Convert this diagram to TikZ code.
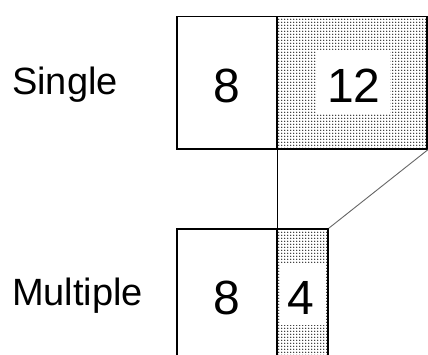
\documentclass[tikz,border=0pt]{standalone}
\usepackage{fontspec}
\setmainfont{Liberation Sans}
\usepackage{tikz}
\usetikzlibrary{patterns}

% denser, bigger dots than the stock pattern
\pgfdeclarepatternformonly{bigdots}{\pgfpoint{-1pt}{-1pt}}{\pgfpoint{2pt}{2pt}}{\pgfpoint{3pt}{3pt}}{%
    \pgfpathcircle{\pgfpointorigin}{0.75pt}
    \pgfusepath{fill}}

\begin{document}
\begin{tikzpicture}[x=1pt, y=-1pt,
        cell/.style={rectangle, draw=black, line width=1.6pt, inner sep=0pt, minimum height=132.5pt},
        dotcell/.style={cell, pattern=bigdots, pattern color=black},
        hole/.style={rectangle, fill=white, inner sep=0pt},
        num/.style={anchor=base, inner sep=0pt, font=\fontsize{48}{50}\selectfont},
        rowlabel/.style={anchor=base west, inner sep=0pt, font=\fontsize{38}{40}\selectfont}]
        \useasboundingbox (0,0) rectangle (428,355);
        \clip (0,0) rectangle (428,355);
        \fill[white] (0,0) rectangle (428,355);

        \node[rowlabel] (single) at (12,95) {Single};
        \node[rowlabel] (multiple) at (12,305) {Multiple};

        \node[cell, minimum width=100pt] (s8) at (227,82.75) {};
        \node[dotcell, minimum width=150pt] (s12) at (352,82.75) {};
        \node[cell, minimum width=100pt] (m8) at (227,295.25) {};
        \node[dotcell, minimum width=51pt] (m4) at (302.5,295.25) {};

        \node[hole, minimum width=73pt, minimum height=63pt] (h12) at (353.5,81.5) {};
        \node[hole, minimum width=46pt, minimum height=62pt] (h4) at (302.5,294) {};

        \node[num] (n8a) at (227,103) {8};
        \node[num] (n12) at (354,103) {12};
        \node[num] (n8b) at (227,314) {8};
        \node[num] (n4) at (301,314) {4};

        \draw[line width=0.9pt] (s8.south east) -- (m8.north east);
        \draw[line width=0.9pt, black!60] (s12.south east) -- (m4.north east);

    \end{tikzpicture}
\end{document}
